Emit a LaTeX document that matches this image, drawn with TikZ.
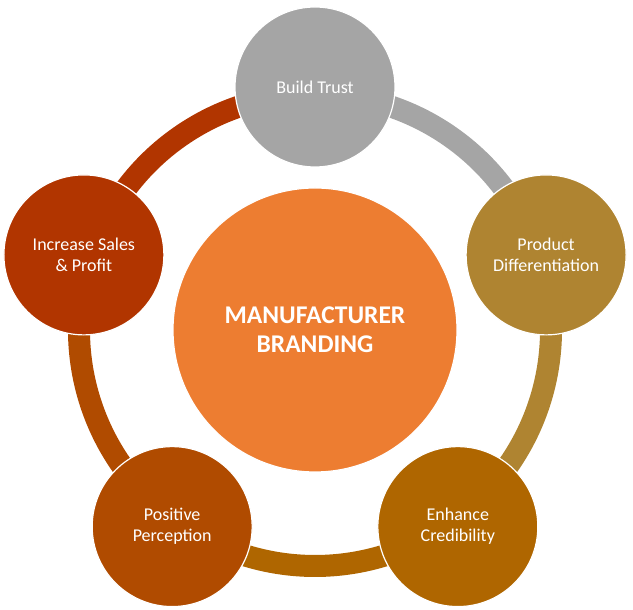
\documentclass[tikz,border=0pt]{standalone}
\usepackage{fontspec}
\setmainfont{Carlito}
\begin{document}
\begin{tikzpicture}[x=1pt,y=1pt,
  outer/.style={circle, minimum size=160pt, inner sep=0pt, draw=white, line width=1.2pt,
    text=white, align=center, font=\fontsize{18}{21}\selectfont},
  hub/.style={circle, minimum size=284pt, inner sep=0pt, fill=hubc, draw=white, line width=1.2pt,
    text=white, align=center, font=\fontsize{25.5}{29}\selectfont\bfseries},
  band/.style={line width=22pt}]
\definecolor{hubc}{HTML}{ED7D31}
\definecolor{cTrust}{HTML}{A5A5A5}
\definecolor{cProd}{HTML}{AF8431}
\definecolor{cEnh}{HTML}{AF6600}
\definecolor{cPos}{HTML}{B04B00}
\definecolor{cInc}{HTML}{B13500}
\useasboundingbox (0,0) rectangle (633,610);
\coordinate (C) at (315,280);
% ring points
\coordinate (r1) at ([shift={(90:236pt)}]C);
\coordinate (r2) at ([shift={(18:236pt)}]C);
\coordinate (r3) at ([shift={(-54:236pt)}]C);
\coordinate (r4) at ([shift={(-126:236pt)}]C);
\coordinate (r5) at ([shift={(162:236pt)}]C);
% ring segments
\draw[band, cTrust] (r1) arc[start angle=90, end angle=18, radius=236pt];
\draw[band, cProd] (r2) arc[start angle=18, end angle=-54, radius=236pt];
\draw[band, cEnh] (r3) arc[start angle=-54, end angle=-126, radius=236pt];
\draw[band, cPos] (r4) arc[start angle=-126, end angle=-198, radius=236pt];
\draw[band, cInc] (r5) arc[start angle=162, end angle=90, radius=236pt];
% hub
\node[hub] (hub) at (C) {MANUFACTURER\\BRANDING};
% outer circles
\node[outer, fill=cTrust] (trust) at ([shift={(90:243pt)}]C) {Build Trust};
\node[outer, fill=cProd] (prod) at ([shift={(18:243pt)}]C) {Product\\Differentiation};
\node[outer, fill=cEnh] (enh) at ([shift={(-54:243pt)}]C) {Enhance\\Credibility};
\node[outer, fill=cPos] (pos) at ([shift={(-126:243pt)}]C) {Positive\\Perception};
\node[outer, fill=cInc] (inc) at ([shift={(162:243pt)}]C) {Increase Sales\\\& Profit};
\end{tikzpicture}
\end{document}
